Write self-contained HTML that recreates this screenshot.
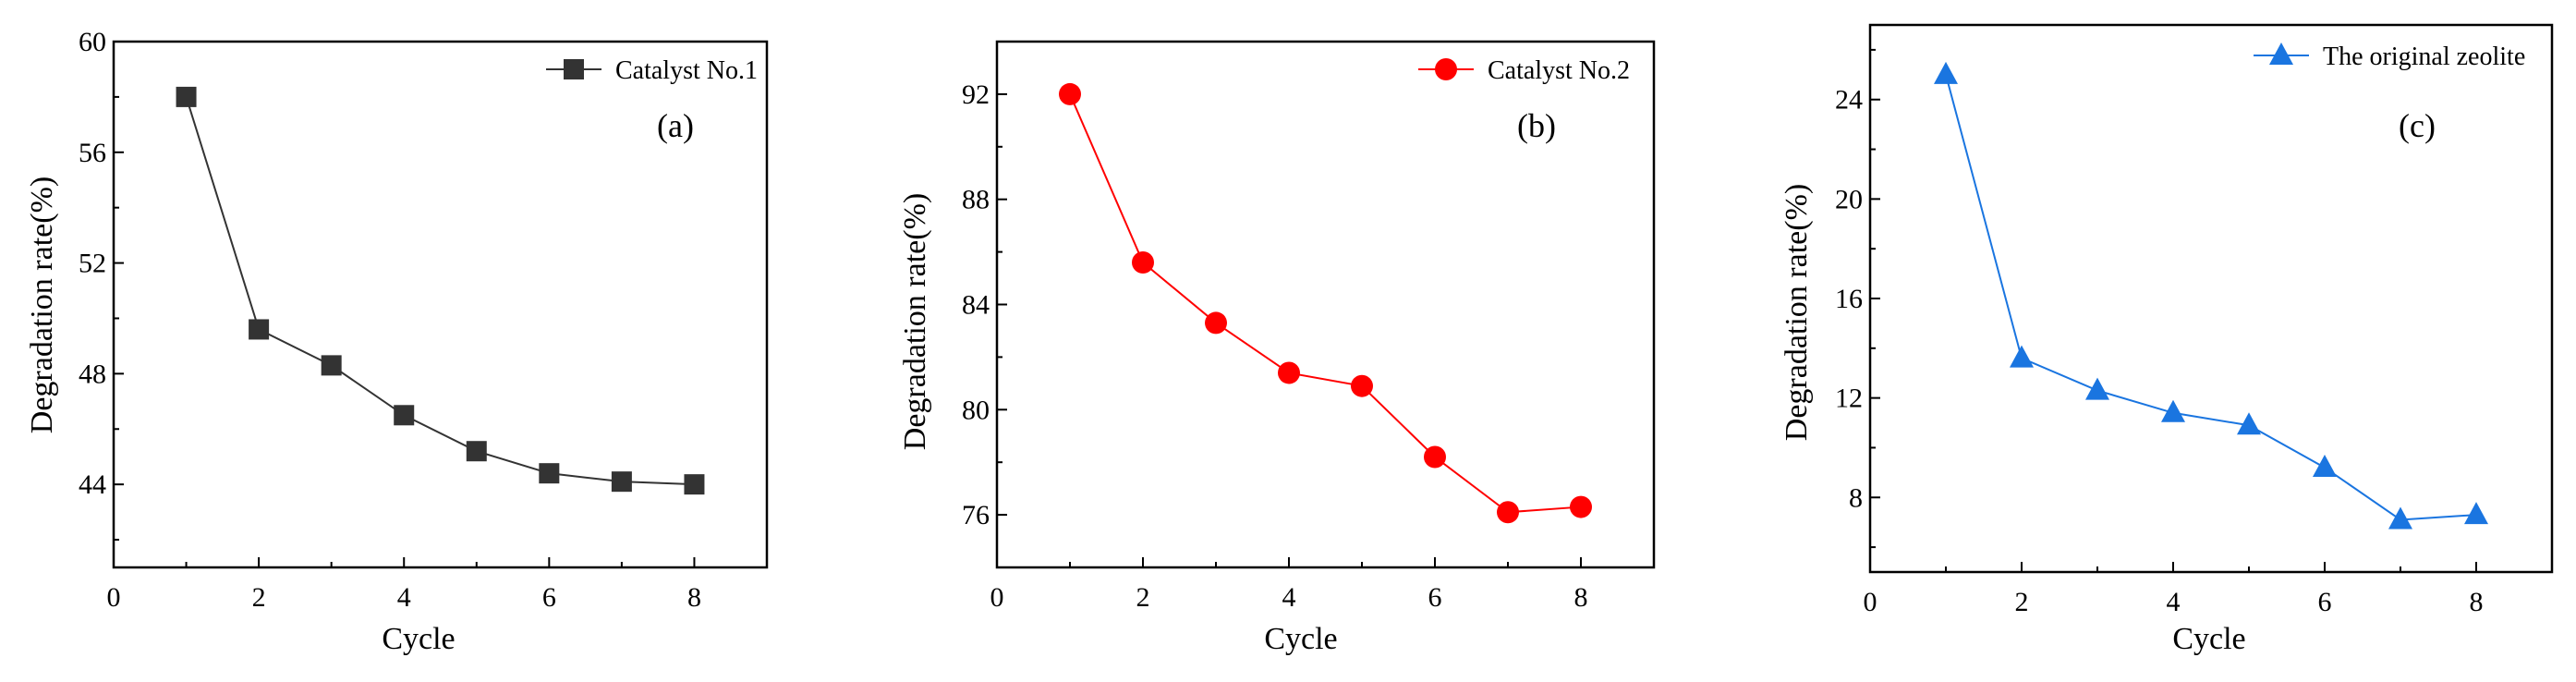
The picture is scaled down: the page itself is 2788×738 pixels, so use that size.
<!DOCTYPE html>
<html><head><meta charset="utf-8"><style>
html,body{margin:0;padding:0;background:#fff;}
text{font-family:"Liberation Serif","Times New Roman",serif !important;}
</style></head><body>
<svg id="chart" width="2788" height="733" xmlns="http://www.w3.org/2000/svg" font-family="Liberation Serif, serif">
</svg>
<script>
const cycles=[1,2,3,4,5,6,7,8];
const seriesA=[58,49.6,48.3,46.5,45.2,44.4,44.1,44.0];
const seriesB=[92,85.6,83.3,81.4,80.9,78.2,76.1,76.3];
const seriesC=[25,13.6,12.3,11.4,10.9,9.2,7.1,7.3];
const xTicks=[0,2,4,6,8];
const yTicksA=[44,48,52,56,60];
const yTicksB=[76,80,84,88,92];
const yTicksC=[8,12,16,20,24];
const legendNames=["Catalyst No.1","Catalyst No.2","The original zeolite"];
const panelLabels=["(a)","(b)","(c)"];

const NS="http://www.w3.org/2000/svg";
const svg=document.getElementById('chart');
function mk(tag,attrs,parent){const e=document.createElementNS(NS,tag);for(const k in attrs)e.setAttribute(k,attrs[k]);if(tag==='text'){e.setAttribute('font-family','Liberation Serif, serif');}(parent||svg).appendChild(e);return e;}

const panels=[
 {data:seriesA,yt:yTicksA,ymin:41,ymax:60,L:123,R:830,T:45,B:614,color:"#333333",marker:"square",leg:[591,75],lab:[731,148],yt_x:45,yt_y:330,cx:453,id:"a"},
 {data:seriesB,yt:yTicksB,ymin:74,ymax:94,L:1079,R:1790,T:45,B:614,color:"#ff0000",marker:"circle",leg:[1535,75],lab:[1663,148],yt_x:990,yt_y:348,cx:1408,id:"b"},
 {data:seriesC,yt:yTicksC,ymin:5,ymax:27,L:2024,R:2762,T:27,B:619,color:"#1a75e0",marker:"triangle",leg:[2439,60],lab:[2616,148],yt_x:1944,yt_y:338,cx:2391,id:"c"}
];

function drawMarker(g,type,x,y,color){
 let m;
 if(type==="square"){m=mk('rect',{x:x-11,y:y-11,width:22,height:22,fill:color},g);}
 else if(type==="circle"){m=mk('circle',{cx:x,cy:y,r:12,fill:color},g);}
 else {m=mk('polygon',{points:`${x},${y-14} ${x-13},${y+10} ${x+13},${y+10}`,fill:color},g);}
 return m;
}

panels.forEach((p,pi)=>{
 const g=mk('g',{});
 
 
 const xs=v=>p.L+(v-0)/(9-0)*(p.R-p.L);
 const ys=v=>p.B-(v-p.ymin)/(p.ymax-p.ymin)*(p.B-p.T);
 const box=mk('rect',{x:p.L,y:p.T,width:p.R-p.L,height:p.B-p.T,fill:"none",stroke:"#000","stroke-width":2.5},g);
 
 
 for(let v=1;v<=8;v++){
  const major=v%2===0;
  const t=mk('line',{x1:xs(v),x2:xs(v),y1:p.B,y2:p.B-(major?11:6),stroke:"#000","stroke-width":2},g);
  
  
 }
 xTicks.forEach(v=>{
  const t=mk('text',{x:xs(v),y:p.B+42,"font-size":30,"text-anchor":"middle",fill:"#000"},g);
  t.textContent=v;
  
  
 });
 const step=p.yt[1]-p.yt[0];
 for(let v=p.yt[0]-step;v<=p.ymax;v+=step/2){
  if(v<p.ymin||v>p.ymax)continue;
  const major=p.yt.includes(v);
  const t=mk('line',{x1:p.L,x2:p.L+(major?11:6),y1:ys(v),y2:ys(v),stroke:"#000","stroke-width":2},g);
  
  
 }
 p.yt.forEach(v=>{
  const t=mk('text',{x:p.L-8,y:ys(v)+10,"font-size":30,"text-anchor":"end",fill:"#000"},g);
  t.textContent=v;
  
  
 });
 const xt=mk('text',{x:p.cx,y:702,"font-size":34,"text-anchor":"middle",fill:"#000"},g);
 xt.textContent="Cycle";
 
 
 const yt=mk('text',{x:0,y:0,"font-size":34,"text-anchor":"middle",fill:"#000",transform:`translate(${p.yt_x+11},${p.yt_y}) rotate(-90)`},g);
 yt.textContent="Degradation rate(%)";
 
 
 const pts=cycles.map((c,i)=>xs(c)+","+ys(p.data[i])).join(" ");
 const pl=mk('polyline',{points:pts,fill:"none",stroke:p.color,"stroke-width":2},g);
 
 
 cycles.forEach((c,i)=>{
  const m=drawMarker(g,p.marker,xs(c),ys(p.data[i]),p.color);
  
  
 });
 const lg=mk('g',{},g);
 
 
 mk('line',{x1:p.leg[0],x2:p.leg[0]+60,y1:p.leg[1],y2:p.leg[1],stroke:p.color,"stroke-width":2},lg);
 drawMarker(lg,p.marker,p.leg[0]+30,p.leg[1],p.color);
 const lt=mk('text',{x:p.leg[0]+75,y:p.leg[1]+10,"font-size":28,fill:"#000"},lg);
 lt.textContent=legendNames[pi];
 const pl2=mk('text',{x:p.lab[0],y:p.lab[1],"font-size":36,"text-anchor":"middle",fill:"#000"},g);
 pl2.textContent=panelLabels[pi];
 
 
});
</script>
</body></html>
